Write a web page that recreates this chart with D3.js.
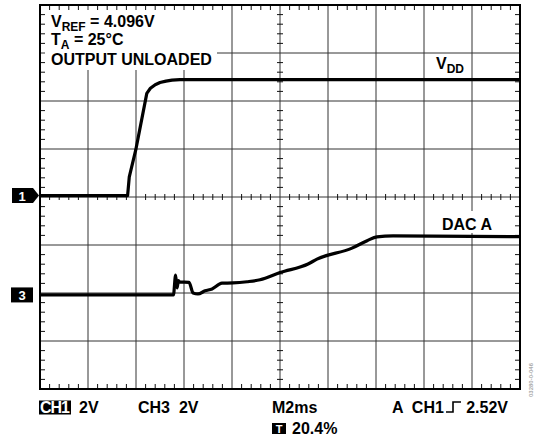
<html>
<head>
<title>VDD power-on, DAC A output</title>
<script src="https://d3js.org/d3.v7.min.js"></script>
<style>
body { margin: 0; background: white; }
text { font-family: "Liberation Sans", Arial, sans-serif; font-weight: bold; }
</style>
</head>
<body>
<svg id="scope" width="535" height="440"></svg>
<script>
// time in ms (M2ms, 10 divisions), volts per channel (2V/div)
var vddTime = [0, 3.65, 3.72, 3.99, 4.45, 4.6, 4.8, 5.0, 5.25, 5.5, 5.83, 20];
var vddVolts = [0, 0, 0.78, 1.9, 4.26, 4.47, 4.62, 4.71, 4.77, 4.81, 4.83, 4.83];

var dacTime = [0, 5.56, 5.65, 5.71, 5.77, 5.81, 6.21, 6.38, 6.58, 6.88, 7.17, 7.58, 8.04, 8.63, 9.17, 10.0, 11.17, 11.54, 13.0, 13.63, 14.04, 14.71, 20];
var dacVolts = [0, 0, 0.83, 0.29, 0.6, 0.54, 0.52, 0.08, 0.04, 0.17, 0.25, 0.49, 0.5, 0.55, 0.63, 0.93, 1.29, 1.49, 1.95, 2.26, 2.42, 2.46, 2.43];

// channel ground markers, in divisions from screen centre
var ch1Ground = 0.03;
var ch3Ground = -2.04;
var voltsPerDiv = 2;

var svg = d3.select("#scope");
var pl = 40, pr = 520, pt = 5, pb = 389;

var x = d3.scaleLinear().domain([0, 20]).range([pl, pr]);
var div = d3.scaleLinear().domain([-4, 4]).range([pb, pt]);
var divW = (pr - pl) / 10, divH = (pb - pt) / 8;

// grid
var g = svg.append("g");
g.selectAll(".vx").data(d3.range(1, 10)).enter().append("line")
  .attr("x1", function(d) { return pl + d * divW; }).attr("x2", function(d) { return pl + d * divW; })
  .attr("y1", pt).attr("y2", pb).attr("stroke", "#333").attr("stroke-width", 1);
g.selectAll(".hy").data(d3.range(1, 8)).enter().append("line")
  .attr("y1", function(d) { return pt + d * divH; }).attr("y2", function(d) { return pt + d * divH; })
  .attr("x1", pl).attr("x2", pr).attr("stroke", "#333").attr("stroke-width", 1);

// minor ticks
var xt = d3.range(1, 50).filter(function(i) { return i % 5 != 0; }).map(function(i) { return pl + i * divW / 5; });
var yt = d3.range(1, 40).filter(function(i) { return i % 5 != 0; }).map(function(i) { return pt + i * divH / 5; });
var cx = pl + 5 * divW, cy = pt + 4 * divH;
function ticks(cls, data, f) {
  g.selectAll("." + cls).data(data).enter().append("line").each(function(d) {
    var p = f(d);
    d3.select(this).attr("x1", p[0]).attr("y1", p[1]).attr("x2", p[2]).attr("y2", p[3]);
  }).attr("stroke", "#111").attr("stroke-width", 1);
}
ticks("t1", xt, function(d) { return [d, pt, d, pt + 5]; });
ticks("t2", xt, function(d) { return [d, pb - 5, d, pb]; });
ticks("t3", xt, function(d) { return [d, cy - 3, d, cy + 3]; });
ticks("t4", yt, function(d) { return [pl, d, pl + 5, d]; });
ticks("t5", yt, function(d) { return [pr - 5, d, pr, d]; });
ticks("t6", yt, function(d) { return [cx - 3, d, cx + 3, d]; });

svg.append("rect").attr("x", pl).attr("y", pt).attr("width", pr - pl).attr("height", pb - pt)
  .attr("fill", "none").attr("stroke", "#000").attr("stroke-width", 2);

// label backgrounds
svg.append("rect").attr("x", 45).attr("y", 10).attr("width", 172).attr("height", 60).attr("fill", "white");
svg.append("rect").attr("x", 440).attr("y", 211).attr("width", 54).attr("height", 22).attr("fill", "white");

// traces
function trace(t, v, gnd, curve) {
  var y = function(val) { return div(gnd + val / voltsPerDiv); };
  var line = d3.line().x(function(d) { return x(d[0]); }).y(function(d) { return y(d[1]); }).curve(curve);
  svg.append("path").datum(d3.zip(t, v)).attr("d", line)
    .attr("fill", "none").attr("stroke", "#000").attr("stroke-width", 3.2).attr("stroke-linejoin", "round");
}
trace(vddTime, vddVolts, ch1Ground, d3.curveLinear);
trace(dacTime, dacVolts, ch3Ground, d3.curveMonotoneX);

// text
var fs = 16;
function label(xp, yp, parts) {
  var t = svg.append("text").attr("x", xp).attr("y", yp).attr("font-size", fs);
  parts.forEach(function(p) {
    var s = t.append("tspan").text(p[0]);
    if (p[1] == "sub") s.attr("font-size", 12).attr("dy", 4);
    if (p[1] == "up") s.attr("dy", -4);
  });
  return t;
}
label(51, 27, [["V"], ["REF", "sub"], [" = 4.096V", "up"]]);
label(51, 45, [["T"], ["A", "sub"], [" = 25°C", "up"]]);
label(51, 65, [["OUTPUT UNLOADED"]]);
label(436, 69, [["V"], ["DD", "sub"]]);
label(442, 230, [["DAC A"]]);

// channel markers
var m1 = div(ch1Ground), m3 = div(ch3Ground);
svg.append("path").attr("d", "M12," + (m1 - 7.5) + "H33L39," + m1 + "L33," + (m1 + 7.5) + "H12Z").attr("fill", "#000");
svg.append("text").attr("x", 22).attr("y", m1 + 5).attr("text-anchor", "middle").attr("fill", "white").attr("font-size", 13).text("1");
svg.append("rect").attr("x", 11).attr("y", m3 - 7.5).attr("width", 22).attr("height", 15).attr("fill", "#000");
svg.append("text").attr("x", 22).attr("y", m3 + 5).attr("text-anchor", "middle").attr("fill", "white").attr("font-size", 13).text("3");

// readout
svg.append("rect").attr("x", 39).attr("y", 400.5).attr("width", 32).attr("height", 14).attr("fill", "#000");
svg.append("text").attr("x", 40).attr("y", 413).attr("font-size", fs).attr("fill", "white").attr("textLength", 30).text("CH1");
svg.append("text").attr("x", 79).attr("y", 413).attr("font-size", fs).text("2V");
svg.append("text").attr("x", 138).attr("y", 413).attr("font-size", fs).attr("xml:space", "preserve").text("CH3  2V");
svg.append("text").attr("x", 272).attr("y", 413).attr("font-size", fs).text("M2ms");
svg.append("text").attr("x", 392).attr("y", 413).attr("font-size", fs).attr("xml:space", "preserve").text("A  CH1");
svg.append("path").attr("d", "M446,412H453V402H461").attr("fill", "none").attr("stroke", "#000").attr("stroke-width", 1.6);
svg.append("text").attr("x", 508).attr("y", 413).attr("font-size", fs).attr("text-anchor", "end").text("2.52V");
svg.append("rect").attr("x", 272).attr("y", 423).attr("width", 14).attr("height", 11).attr("fill", "#000");
svg.append("text").attr("x", 279).attr("y", 433).attr("font-size", 11).attr("fill", "white").attr("text-anchor", "middle").text("T");
svg.append("text").attr("x", 292).attr("y", 434).attr("font-size", fs).text("20.4%");

svg.append("text").attr("transform", "translate(533,397) rotate(-90)").attr("font-size", 6)
  .attr("font-weight", "normal").attr("fill", "#aaa").text("03280-0-046");
</script>
</body>
</html>
